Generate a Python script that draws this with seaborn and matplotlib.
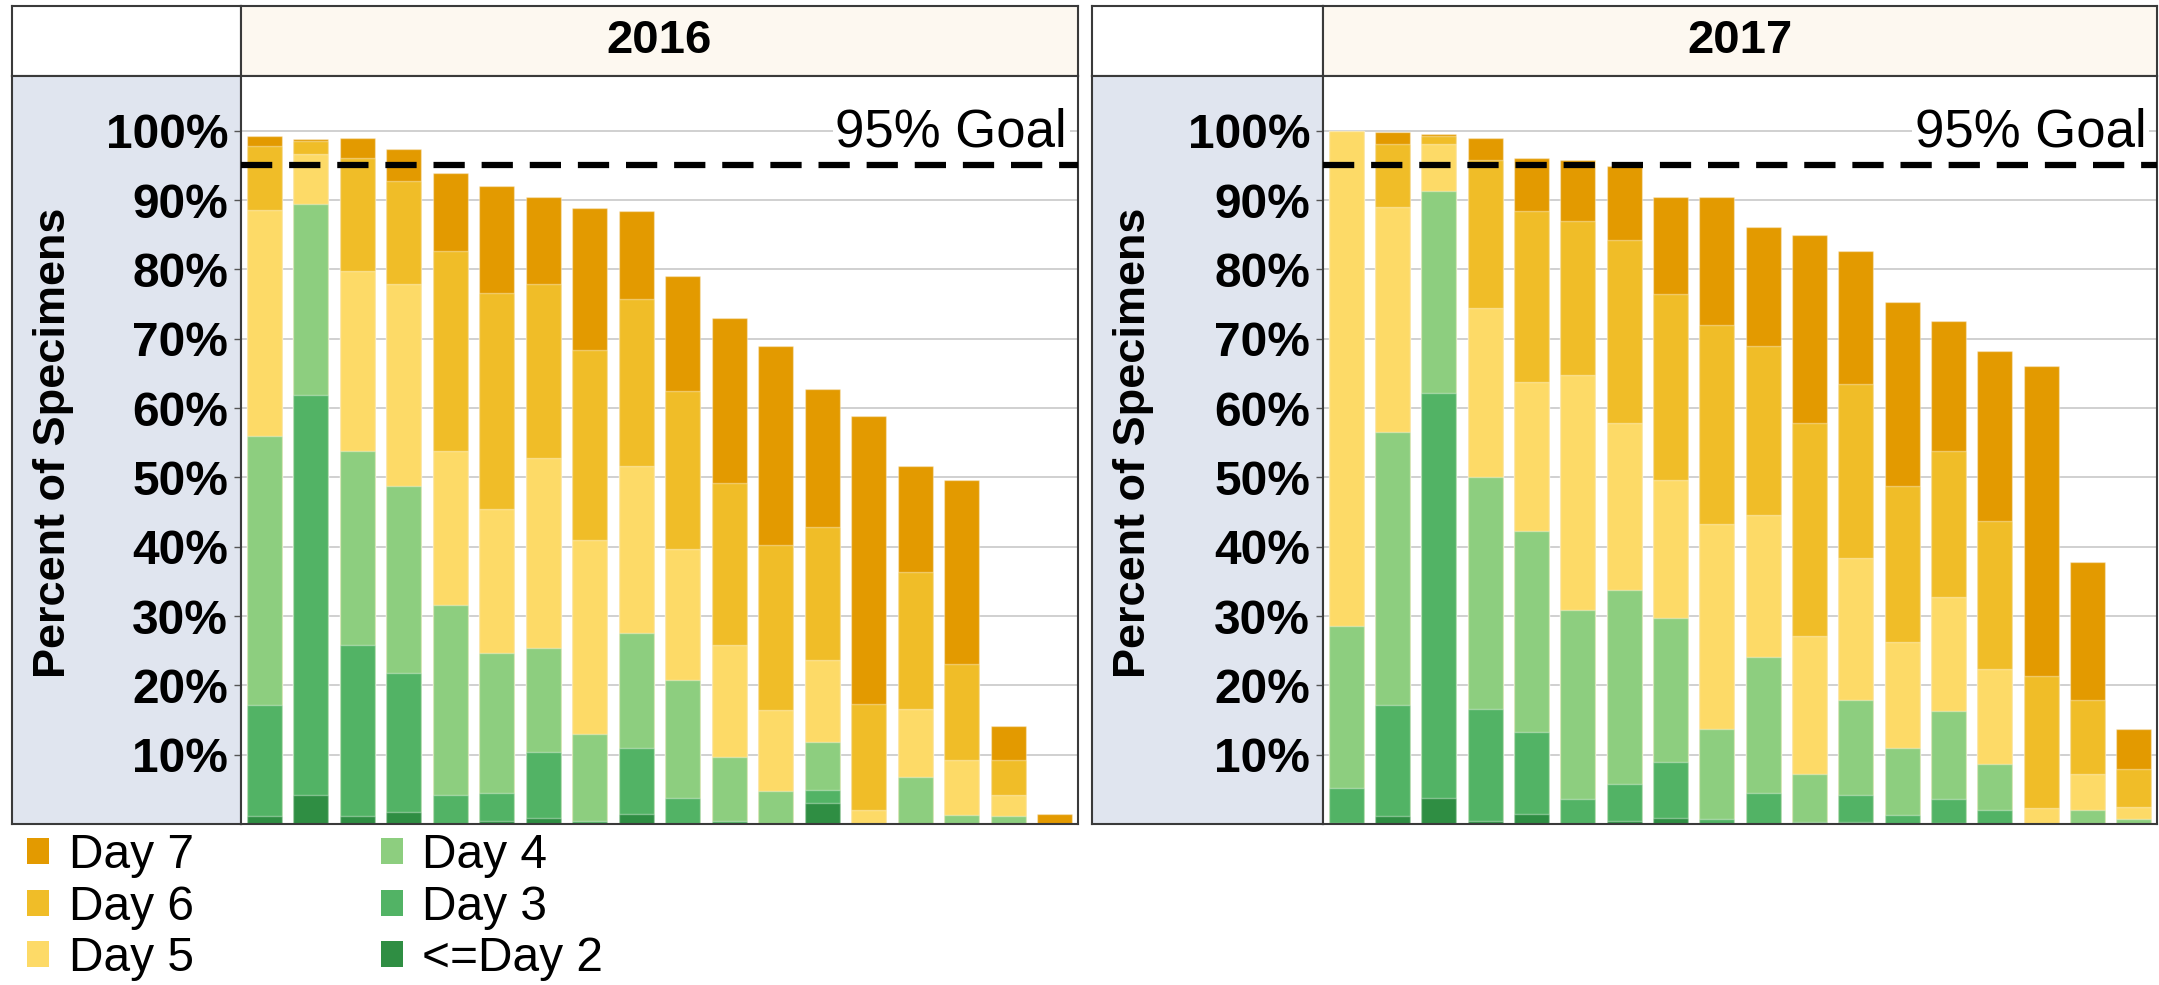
#Stacked bars of turnaround day per site, 2016 vs 2017
import pandas as pd
import matplotlib.pyplot as plt
import seaborn as sns
import numpy as np
from matplotlib.patches import Patch

#Share of specimens per day bucket, one value per site (18 sites, sorted as in the chart)
sites = [str(i) for i in range(1, 19)]

day2_2016 = [1.1, 4.2, 1.1, 1.8, 0.0, 0.5, 0.9, 0.0, 1.5, 0.0, 0.0, 0.0, 3.0, 0.0, 0.0, 0.0, 0.0, 0.0]
day3_2016 = [16.0, 57.7, 24.7, 20.0, 4.2, 4.0, 9.5, 0.5, 9.5, 3.8, 0.5, 0.0, 1.9, 0.0, 0.0, 0.0, 0.0, 0.0]
day4_2016 = [38.8, 27.6, 28.0, 27.0, 27.4, 20.2, 15.0, 12.5, 16.5, 17.0, 9.2, 4.7, 6.9, 0.0, 6.8, 1.3, 1.1, 0.0]
day5_2016 = [32.7, 7.2, 26.0, 29.1, 22.2, 20.7, 27.4, 27.9, 24.2, 18.9, 16.1, 11.8, 11.8, 2.0, 9.8, 8.0, 3.1, 0.0]
day6_2016 = [9.2, 1.8, 16.2, 14.9, 28.9, 31.2, 25.1, 27.5, 24.1, 22.8, 23.4, 23.8, 19.3, 15.3, 19.7, 13.8, 5.1, 0.0]
day7_2016 = [1.5, 0.3, 2.9, 4.5, 11.2, 15.4, 12.6, 20.4, 12.6, 16.6, 23.8, 28.7, 19.8, 41.6, 15.4, 26.5, 4.9, 1.5]

day2_2017 = [0.2, 1.1, 3.8, 0.5, 1.5, 0.0, 0.5, 0.9, 0.0, 0.0, 0.0, 0.3, 0.0, 0.2, 0.0, 0.0, 0.0, 0.0]
day3_2017 = [5.0, 16.0, 58.4, 16.1, 11.8, 3.6, 5.2, 8.0, 0.7, 4.5, 0.3, 3.9, 1.3, 3.4, 2.0, 0.0, 0.0, 0.0]
day4_2017 = [23.3, 39.5, 29.1, 33.4, 28.9, 27.3, 28.0, 20.8, 13.0, 19.6, 6.9, 13.7, 9.7, 12.7, 6.7, 0.0, 2.0, 0.7]
day5_2017 = [71.5, 32.4, 6.8, 24.5, 21.5, 33.9, 24.2, 19.9, 29.6, 20.5, 19.9, 20.5, 15.2, 16.4, 13.7, 2.3, 5.2, 1.8]
day6_2017 = [0.0, 9.1, 1.2, 21.3, 24.7, 22.2, 26.3, 26.8, 28.7, 24.4, 30.8, 25.1, 22.5, 21.1, 21.3, 19.0, 10.7, 5.5]
day7_2017 = [0.0, 1.7, 0.2, 3.1, 7.6, 8.8, 10.7, 14.1, 18.5, 17.1, 27.1, 19.2, 26.6, 18.8, 24.5, 44.7, 19.9, 5.7]

day_names = ['<=Day 2', 'Day 3', 'Day 4', 'Day 5', 'Day 6', 'Day 7']
day_colors = ['#2F8E43', '#52B365', '#8DCE7F', '#FDDA67', '#F0BD28', '#E39A00']
goal = 95

years = {
    '2016': [day2_2016, day3_2016, day4_2016, day5_2016, day6_2016, day7_2016],
    '2017': [day2_2017, day3_2017, day4_2017, day5_2017, day6_2017, day7_2017],
}

sns.set_style('white')
plt.rcParams['font.family'] = ['Liberation Sans', 'DejaVu Sans']
plt.rcParams['text.color'] = 'black'
plt.rcParams['ytick.labelcolor'] = 'black'

W, H = 2159, 985
fig = plt.figure(figsize=(W / 100, H / 100), dpi=100)

#Rect in pixels (left, top, right, bottom) -> figure fraction
def px(x0, y0, x1, y1):
    return [x0 / W, 1 - y1 / H, (x1 - x0) / W, (y1 - y0) / H]

def frame(ax):
    ax.set_xticks([])
    ax.set_yticks([])
    for s in ax.spines.values():
        s.set_color('#3a3a3a')
        s.set_linewidth(1.5)

def draw_panel(year, x0, xmid, x1):
    top, head, bottom = 6, 76, 824

    hl = fig.add_axes(px(x0, top, xmid, head))
    hl.set_facecolor('white')
    frame(hl)

    hm = fig.add_axes(px(xmid, top, x1, head))
    hm.set_facecolor('#FDF8F0')
    frame(hm)
    hm.text(0.5, 0.5, year, ha='center', va='center', fontsize=34, fontweight='bold', transform=hm.transAxes)

    lab = fig.add_axes(px(x0, head, xmid, bottom))
    lab.set_facecolor('#E0E5EF')
    frame(lab)
    lab.text(0.18, 0.51, 'Percent of Specimens', rotation=90, ha='center', va='center',
             fontsize=32.5, fontweight='bold', transform=lab.transAxes)

    ax = fig.add_axes(px(xmid, head, x1, bottom))
    ax.set_zorder(5)
    ax.set_facecolor('white')

    #Cumulative totals, drawn tallest first so each bucket sits on top of the earlier ones
    df = pd.DataFrame({'site': sites})
    cum = np.cumsum(np.array(years[year]), axis=0)
    for i in range(5, -1, -1):
        df['cum'] = cum[i]
        sns.barplot(data=df, x='site', y='cum', order=sites, color=day_colors[i], saturation=1,
                    width=0.755, errorbar=None, edgecolor=(1, 1, 1, 0.35), linewidth=1, ax=ax)

    ax.axhline(goal, color='black', lw=4.5, dashes=(5.0, 2.7), zorder=10)
    ax.text(0.987, 97.7, '95% Goal', ha='right', va='baseline', fontsize=38,
            transform=ax.get_yaxis_transform(), zorder=11,
            bbox=dict(facecolor='white', edgecolor='none', pad=2))

    ax.set_xlim(-0.5, 17.5)
    ax.set_ylim(0, 107.9)
    ticks = list(range(10, 101, 10))
    ax.set_yticks(ticks)
    ax.set_yticklabels([f'{t}%' for t in ticks], fontsize=34.5, fontweight='bold')
    ax.set_xticks([])
    ax.set_xlabel('')
    ax.set_ylabel('')
    ax.yaxis.grid(True, color='#C8C8C8', lw=1.2)
    ax.set_axisbelow(True)
    ax.tick_params(axis='y', length=5, width=1, color='#555555', pad=4.3, left=True)
    for s in ax.spines.values():
        s.set_color('#3a3a3a')
        s.set_linewidth(1.5)

draw_panel('2016', 12, 241, 1078)
draw_panel('2017', 1092, 1323, 2157)

handles = [Patch(facecolor=day_colors[i], edgecolor='none', label=day_names[i]) for i in range(5, -1, -1)]
fig.legend(handles=handles, ncol=2, loc='upper left', bbox_to_anchor=(27 / W, 1 - 833 / H),
           frameon=False, fontsize=34.5, handlelength=0.46, handleheight=0.46, handletextpad=0.41,
           columnspacing=3.9, labelspacing=0.14, borderpad=0, borderaxespad=0)

fig.savefig('out.png', dpi=100)
